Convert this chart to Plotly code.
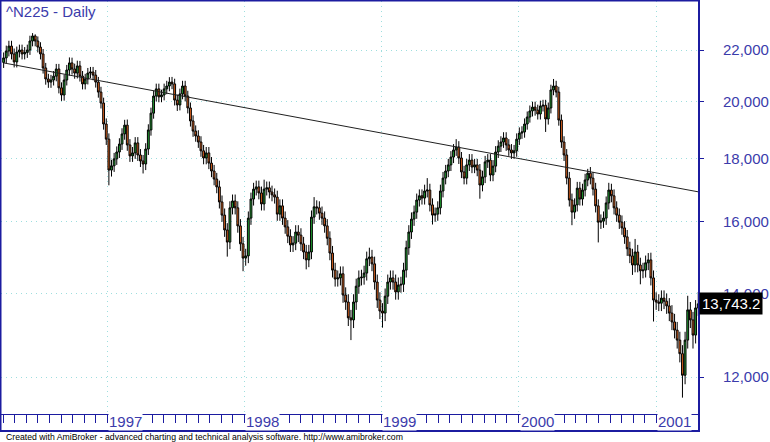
import numpy as np
import pandas as pd
import plotly.graph_objects as go

# weekly OHLC of ^N225
week_start = '1996-04-01'

opens = [
    21500, 21680, 21960, 22160, 21840, 21520, 21920, 22000, 21840, 21900,
    22000, 22370, 22580, 22370, 22120, 21840, 21280, 20850, 20730, 20810,
    20960, 21240, 20510, 20240, 20810, 21200, 21480, 21240, 21080, 21360,
    20960, 20660, 20850, 21080, 21120, 21000, 20730, 20350, 19940, 19180,
    18650, 17610, 17750, 17980, 18210, 18480, 18830, 19140, 18450, 18080,
    18180, 18520, 18110, 17910, 17810, 18310, 18970, 19570, 20200, 20470,
    20170, 20240, 20470, 20580, 20730, 20660, 20050, 19870, 20280, 20580,
    20200, 19760, 19290, 18930, 18760, 18550, 18250, 18010, 18180, 17840,
    17580, 17320, 17070, 16600, 16200, 15760, 15410, 16420, 16630, 16420,
    15880, 15360, 14960, 15020, 16110, 16690, 17000, 17070, 16880, 16540,
    17000, 17040, 16910, 16820, 16750, 16230, 16480, 16110, 15850, 15580,
    15330, 15380, 15700, 15610, 15360, 15130, 14910, 15130, 16140, 16450,
    16420, 16260, 16110, 15880, 15520, 15100, 14630, 14390, 14420, 14530,
    13970, 13790, 13390, 13340, 13790, 14200, 14420, 14440, 14550, 14940,
    14990, 14800, 14310, 13840, 13560, 13510, 13940, 14310, 14420, 14310,
    14050, 14230, 14250, 14630, 15250, 15700, 16080, 16290, 16660, 16790,
    16720, 16940, 16970, 16510, 16200, 16230, 16420, 16940, 17350, 17580,
    17780, 18040, 18280, 18380, 18010, 17550, 17350, 17780, 17940, 17710,
    17780, 17610, 17130, 17390, 17880, 17940, 17450, 17740, 18210, 18410,
    18550, 18690, 18450, 18280, 18180, 18250, 18650, 18860, 18900, 19180,
    19430, 19650, 19790, 19680, 19540, 19830, 19860, 19360, 19760, 20430,
    20580, 20350, 19320, 18550, 18110, 17350, 16660, 16290, 16510, 17030,
    16690, 16970, 17290, 17510, 17350, 17000, 16480, 15990, 16020, 16110,
    16570, 16970, 16790, 16420, 16200, 15990, 15820, 15560, 15220, 15020,
    14770, 15130, 14770, 14610, 14630, 14830, 14910, 14420, 13840, 13790,
    13760, 13890, 13810, 13690, 13510, 13290, 13090, 12850, 12530, 12040,
    12850, 13590, 13340, 12970, 13640,
]
highs = [
    21900, 22180, 22380, 22380, 22060, 22140, 22220, 22220, 22120, 22220,
    22590, 22700, 22650, 22560, 22320, 22040, 21480, 21050, 21010, 21160,
    21440, 21440, 20720, 21020, 21400, 21700, 21690, 21450, 21570, 21560,
    21160, 21050, 21280, 21320, 21320, 21200, 20930, 20550, 20140, 19380,
    18850, 17950, 18180, 18400, 18680, 19030, 19330, 19340, 18650, 18380,
    18720, 18720, 18310, 18110, 18510, 19170, 19770, 20400, 20670, 20670,
    20440, 20670, 20780, 20920, 20930, 20860, 20250, 20480, 20780, 20780,
    20400, 19960, 19490, 19130, 18960, 18750, 18450, 18380, 18380, 18040,
    17780, 17520, 17270, 16800, 16400, 15960, 16620, 16830, 16830, 16620,
    16080, 15560, 15220, 16310, 16890, 17200, 17270, 17270, 17080, 17300,
    17240, 17240, 17110, 17020, 16950, 16680, 16680, 16310, 16050, 15780,
    15580, 15900, 15900, 15810, 15560, 15330, 15330, 16340, 16750, 16650,
    16620, 16460, 16310, 16080, 15720, 15300, 14830, 14620, 14730, 14730,
    14170, 13990, 13590, 13990, 14400, 14620, 14640, 14750, 15140, 15250,
    15190, 15000, 14510, 14040, 13760, 14140, 14510, 14620, 14620, 14510,
    14430, 14450, 14830, 15450, 15900, 16280, 16490, 16860, 16990, 16990,
    17140, 17350, 17170, 16710, 16430, 16620, 17140, 17550, 17780, 17980,
    18240, 18480, 18650, 18580, 18210, 17750, 17980, 18140, 18140, 17980,
    17980, 17810, 17590, 18080, 18140, 18140, 17940, 18410, 18610, 18750,
    18890, 18890, 18650, 18480, 18450, 18850, 19060, 19100, 19380, 19630,
    19850, 19990, 19990, 19880, 20030, 20060, 20060, 19960, 20630, 20850,
    20780, 20550, 19520, 18750, 18310, 17550, 16860, 16710, 17230, 17230,
    17170, 17490, 17650, 17710, 17550, 17200, 16680, 16220, 16310, 16770,
    17200, 17170, 16990, 16620, 16400, 16190, 16020, 15760, 15420, 15220,
    15500, 15330, 14970, 14830, 15030, 15100, 15110, 14620, 14040, 13990,
    14090, 14090, 14010, 13890, 13710, 13490, 13290, 13050, 12730, 13050,
    13950, 13790, 13540, 13840, 14050,
]
lows = [
    21280, 21460, 21740, 21620, 21300, 21300, 21700, 21620, 21620, 21680,
    21800, 22150, 22150, 21900, 21620, 21060, 20630, 20510, 20510, 20600,
    20760, 20300, 20020, 20030, 20600, 20980, 21020, 20860, 20870, 20750,
    20450, 20450, 20640, 20880, 20800, 20520, 20140, 19740, 18980, 18450,
    17120, 17400, 17550, 17780, 18010, 18280, 18630, 18250, 17880, 17880,
    17980, 17910, 17710, 17500, 17610, 18110, 18770, 19370, 20000, 19970,
    19970, 20040, 20270, 20380, 20460, 19850, 19650, 19670, 20080, 20000,
    19560, 19090, 18730, 18560, 18350, 18050, 17800, 17800, 17640, 17380,
    17120, 16870, 16400, 16000, 15560, 15000, 15210, 16220, 16220, 15680,
    15160, 14600, 14750, 14820, 15910, 16490, 16800, 16680, 16340, 16340,
    16800, 16710, 16620, 16550, 16030, 16030, 15910, 15650, 15380, 15130,
    15130, 15180, 15410, 15160, 14930, 14650, 14710, 14930, 15940, 16220,
    16060, 15910, 15680, 15320, 14900, 14430, 14190, 14190, 14220, 13770,
    13590, 13190, 12850, 13140, 13590, 14000, 14220, 14240, 14350, 14740,
    14600, 14110, 13640, 13360, 13150, 13310, 13740, 14110, 14110, 13850,
    13850, 14030, 14050, 14430, 15050, 15500, 15880, 16090, 16460, 16520,
    16520, 16740, 16310, 15920, 16000, 16030, 16220, 16740, 17150, 17380,
    17580, 17840, 18080, 17810, 17350, 17150, 17150, 17580, 17510, 17510,
    17410, 16700, 16930, 17190, 17680, 17250, 17250, 17540, 18010, 18210,
    18350, 18250, 18080, 17980, 17980, 18050, 18450, 18660, 18700, 18980,
    19230, 19450, 19480, 19340, 19340, 19630, 18900, 19160, 19560, 20230,
    20150, 19120, 18350, 17910, 17150, 16460, 15900, 16090, 16310, 16490,
    16490, 16770, 17090, 17150, 16800, 16280, 15400, 15790, 15820, 15910,
    16370, 16590, 16220, 16000, 15790, 15620, 15360, 15020, 14820, 14500,
    14570, 14570, 14250, 14410, 14430, 14630, 14220, 13300, 13590, 13560,
    13560, 13610, 13490, 13310, 13090, 12890, 12650, 12330, 11550, 11840,
    12650, 13140, 12650, 12770, 13440,
]
closes = [
    21680, 21960, 22160, 21840, 21520, 21920, 22000, 21840, 21900, 22000,
    22370, 22580, 22370, 22120, 21840, 21280, 20850, 20730, 20810, 20960,
    21240, 20510, 20240, 20810, 21200, 21480, 21240, 21080, 21360, 20960,
    20660, 20850, 21080, 21120, 21000, 20730, 20350, 19940, 19180, 18650,
    17610, 17750, 17980, 18210, 18480, 18830, 19140, 18450, 18080, 18180,
    18520, 18110, 17910, 17810, 18310, 18970, 19570, 20200, 20470, 20170,
    20240, 20470, 20580, 20730, 20660, 20050, 19870, 20280, 20580, 20200,
    19760, 19290, 18930, 18760, 18550, 18250, 18010, 18180, 17840, 17580,
    17320, 17070, 16600, 16200, 15760, 15410, 16420, 16630, 16420, 15880,
    15360, 14960, 15020, 16110, 16690, 17000, 17070, 16880, 16540, 17000,
    17040, 16910, 16820, 16750, 16230, 16480, 16110, 15850, 15580, 15330,
    15380, 15700, 15610, 15360, 15130, 14910, 15130, 16140, 16450, 16420,
    16260, 16110, 15880, 15520, 15100, 14630, 14390, 14420, 14530, 13970,
    13790, 13390, 13340, 13790, 14200, 14420, 14440, 14550, 14940, 14990,
    14800, 14310, 13840, 13560, 13510, 13940, 14310, 14420, 14310, 14050,
    14230, 14250, 14630, 15250, 15700, 16080, 16290, 16660, 16790, 16720,
    16940, 16970, 16510, 16200, 16230, 16420, 16940, 17350, 17580, 17780,
    18040, 18280, 18380, 18010, 17550, 17350, 17780, 17940, 17710, 17780,
    17610, 17130, 17390, 17880, 17940, 17450, 17740, 18210, 18410, 18550,
    18690, 18450, 18280, 18180, 18250, 18650, 18860, 18900, 19180, 19430,
    19650, 19790, 19680, 19540, 19830, 19860, 19360, 19760, 20430, 20580,
    20350, 19320, 18550, 18110, 17350, 16660, 16290, 16510, 17030, 16690,
    16970, 17290, 17510, 17350, 17000, 16480, 15990, 16020, 16110, 16570,
    16970, 16790, 16420, 16200, 15990, 15820, 15560, 15220, 15020, 14770,
    15130, 14770, 14610, 14630, 14830, 14910, 14420, 13840, 13790, 13760,
    13890, 13810, 13690, 13510, 13290, 13090, 12850, 12530, 12040, 12850,
    13590, 13340, 12970, 13640, 13743.2,
]

# hand drawn trend line
trend_dates = ['1996-04-01', '2001-04-25']
trend_vals = [21480, 16910]

price_ticks = [12000, 14000, 16000, 18000, 20000, 22000]
years = [1997, 1998, 1999, 2000, 2001]

NAVY = '#1c1ca0'
TXT = '#3b3bab'
GRID = '#9edede'
FONT = 'Arial, Liberation Sans, sans-serif'

dates = pd.date_range(week_start, periods=len(closes), freq='7D')

fig = go.Figure()

fig.add_trace(go.Candlestick(
    x=dates, open=opens, high=highs, low=lows, close=closes,
    increasing=dict(fillcolor='#22a232', line=dict(color='black', width=1)),
    decreasing=dict(fillcolor='#e2641e', line=dict(color='black', width=1)),
    whiskerwidth=0, hoverinfo='skip', showlegend=False,
))

fig.add_trace(go.Scatter(
    x=trend_dates, y=trend_vals, mode='lines',
    line=dict(color='#202020', width=1), hoverinfo='skip', showlegend=False,
))

# plot area: x 1..699, y 1..414 (pixels)
W, H = 698, 413

def py(pix):
    # pixel row -> paper y
    return (414 - pix) / H

fig.update_layout(
    width=770, height=442,
    margin=dict(l=1, r=71, t=1, b=28),
    paper_bgcolor='white', plot_bgcolor='white',
    font=dict(family=FONT, color=TXT),
    boxgap=0.0,
    xaxis=dict(
        type='date',
        range=['1996-03-25', '2001-04-25'],
        rangeslider=dict(visible=False),
        tickvals=[f'{y}-01-01' for y in years],
        showticklabels=False,
        ticks='outside', ticklen=8, tickcolor=NAVY, tickwidth=1,
        showgrid=True, gridcolor=GRID, griddash='1px,4px', gridwidth=1,
        showline=True, linecolor=NAVY, linewidth=1,
        minor=dict(dtick='M1', tick0='1996-01-01', ticks='outside',
                   ticklen=8, tickcolor=NAVY, tickwidth=1, showgrid=False),
        zeroline=False,
    ),
    yaxis=dict(
        type='log', side='right',
        range=[np.log10(11205), np.log10(24092)],
        tickvals=price_ticks,
        ticktext=[f'{v:,}' for v in price_ticks],
        ticks='outside', ticklen=4, tickcolor=NAVY,
        ticklabelstandoff=16,
        tickfont=dict(size=15, color=TXT, family=FONT),
        showgrid=True, gridcolor=GRID, griddash='1px,4px', gridwidth=1,
        showline=False, zeroline=False,
    ),
)

# outer frame
fig.add_shape(type='rect', xref='paper', yref='paper',
              x0=-0.5 / W, x1=1.0, y0=py(431), y1=1 + 0.5 / H,
              line=dict(color=NAVY, width=2), layer='above')

annotations = [
    dict(text='^N225 - Daily', x=3 / W, y=py(11), xref='paper', yref='paper',
         xanchor='left', yanchor='middle', showarrow=False,
         font=dict(size=15, color=TXT, family=FONT)),
    dict(text='Created with AmiBroker - advanced charting and technical analysis software. http://www.amibroker.com',
         x=3 / W, y=py(436.5), xref='paper', yref='paper',
         xanchor='left', yanchor='middle', showarrow=False,
         font=dict(size=8.7, color='black', family=FONT)),
    dict(text=f'{closes[-1]:,.1f}', x=1.0, y=np.log10(closes[-1]),
         xref='paper', yref='y', xanchor='left', yanchor='middle',
         showarrow=False, bgcolor='black', borderpad=2,
         font=dict(size=15, color='white', family=FONT)),
]
for yr in years:
    annotations.append(dict(
        text=str(yr), x=f'{yr}-01-01', y=py(421.5), xref='x', yref='paper',
        xanchor='left', yanchor='middle', xshift=1, showarrow=False,
        bgcolor='white', borderpad=0,
        font=dict(size=15, color=TXT, family=FONT)))
fig.update_layout(annotations=annotations)

# the page's default body margin would shift the figure by 8px
fig.write_html('out.html', config={'displayModeBar': False},
               post_script="document.body.style.margin='0';")
